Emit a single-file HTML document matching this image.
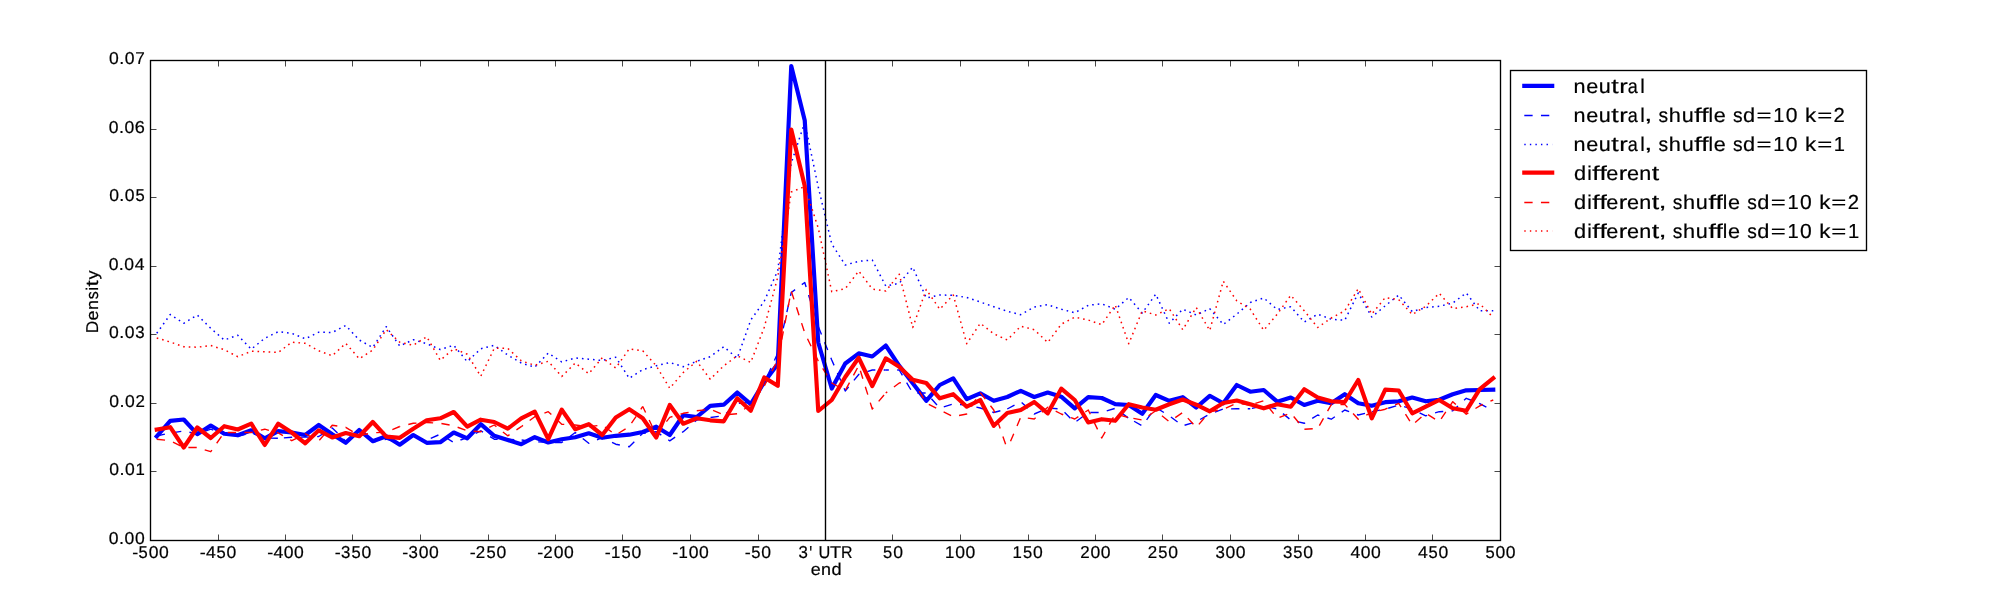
<!DOCTYPE html>
<html><head><meta charset="utf-8"><title>chart</title>
<style>html,body{margin:0;padding:0;background:#fff;}svg{display:block;will-change:transform}text{font-family:"Liberation Sans",sans-serif;fill:#000;stroke:#000;stroke-width:0.2px;text-rendering:geometricPrecision}</style>
</head><body>
<svg width="2000" height="600" viewBox="0 0 2000 600">
<rect x="0" y="0" width="2000" height="600" fill="#fff"/>
<g clip-path="url(#c)">
<defs><clipPath id="c"><rect x="150" y="60" width="1350" height="480"/></clipPath></defs>
<polyline points="156.75,436.30 170.25,420.80 183.75,419.50 197.25,434.20 210.75,425.50 224.25,433.70 237.75,435.30 251.25,430.30 264.75,438.30 278.25,431.20 291.75,432.50 305.25,435.00 318.75,425.00 332.25,434.20 345.75,442.80 359.25,430.00 372.75,441.20 386.25,436.30 399.75,444.70 413.25,435.00 426.75,442.80 440.25,442.20 453.75,432.50 467.25,438.30 480.75,424.20 494.25,435.80 507.75,440.00 521.25,444.20 534.75,437.20 548.25,442.50 561.75,439.20 575.25,437.20 588.75,433.30 602.25,437.80 615.75,435.80 629.25,434.70 642.75,432.00 656.25,426.70 669.75,435.00 683.25,415.30 696.75,417.00 710.25,405.80 723.75,404.70 737.25,392.50 750.75,404.20 764.25,382.00 777.75,364.00 791.25,66.00 804.75,120.50 818.25,342.50 831.75,388.50 845.25,363.50 858.75,353.30 872.25,356.50 885.75,345.50 899.25,365.80 912.75,383.30 926.25,400.80 939.75,385.00 953.25,378.30 966.75,399.20 980.25,393.30 993.75,400.80 1007.25,397.00 1020.75,390.80 1034.25,397.00 1047.75,392.50 1061.25,396.70 1074.75,408.30 1088.25,397.20 1101.75,398.00 1115.25,404.20 1128.75,405.00 1142.25,413.70 1155.75,395.00 1169.25,400.80 1182.75,397.20 1196.25,407.50 1209.75,395.80 1223.25,403.30 1236.75,385.00 1250.25,391.70 1263.75,390.00 1277.25,401.70 1290.75,397.50 1304.25,405.00 1317.75,400.80 1331.25,403.30 1344.75,394.20 1358.25,403.30 1371.75,405.80 1385.25,402.20 1398.75,401.30 1412.25,397.50 1425.75,401.30 1439.25,399.70 1452.75,394.20 1466.25,390.30 1479.75,390.00 1493.25,389.70" fill="none" stroke="#0000ff" stroke-width="4.17" stroke-linejoin="round" stroke-linecap="square"/>
<polyline points="156.75,436.00 170.25,433.00 183.75,431.00 197.25,434.00 210.75,429.20 224.25,434.00 237.75,436.00 251.25,433.00 264.75,438.00 278.25,438.30" fill="none" stroke="#0000ff" stroke-width="1.39" stroke-linejoin="round" stroke-dasharray="8.33 8.33" stroke-dashoffset="0.00"/>
<polyline points="278.25,438.30 291.75,437.20 305.25,437.10 318.75,436.50 332.25,427.90 345.75,441.25 359.25,430.80 372.75,442.00 386.25,439.20 399.75,443.30" fill="none" stroke="#0000ff" stroke-width="1.39" stroke-linejoin="round" stroke-dasharray="8.33 8.33" stroke-dashoffset="11.02"/>
<polyline points="399.75,443.30 413.25,436.70 426.75,440.00 440.25,434.20 453.75,442.50 467.25,437.50 480.75,430.80 494.25,439.20 507.75,439.20 521.25,440.00" fill="none" stroke="#0000ff" stroke-width="1.39" stroke-linejoin="round" stroke-dasharray="8.33 8.33" stroke-dashoffset="0.04"/>
<polyline points="521.25,440.00 534.75,441.70 548.25,442.50 561.75,442.50 575.25,432.50 588.75,443.30 602.25,437.50 615.75,444.20 629.25,446.70 642.75,433.30" fill="none" stroke="#0000ff" stroke-width="1.39" stroke-linejoin="round" stroke-dasharray="8.33 8.33" stroke-dashoffset="16.27"/>
<polyline points="642.75,433.30 656.25,431.70 669.75,440.80 683.25,431.70 696.75,420.00 710.25,417.50 723.75,415.80 737.25,403.30 750.75,402.50 764.25,383.00" fill="none" stroke="#0000ff" stroke-width="1.39" stroke-linejoin="round" stroke-dasharray="8.33 8.33" stroke-dashoffset="5.27"/>
<polyline points="764.25,383.00 777.75,353.00 791.25,292.50 804.75,282.50 818.25,326.50 831.75,360.00 845.25,391.00 858.75,374.50 872.25,370.00 885.75,370.00" fill="none" stroke="#0000ff" stroke-width="1.39" stroke-linejoin="round" stroke-dasharray="8.33 8.33" stroke-dashoffset="8.58"/>
<polyline points="885.75,370.00 899.25,370.00 912.75,393.00 926.25,393.00 939.75,408.00 953.25,404.00 966.75,405.00 980.25,408.00 993.75,412.50 1007.25,409.00" fill="none" stroke="#0000ff" stroke-width="1.39" stroke-linejoin="round" stroke-dasharray="8.33 8.33" stroke-dashoffset="5.25"/>
<polyline points="1007.25,409.00 1020.75,401.70 1034.25,414.00 1047.75,408.00 1061.25,409.00 1074.75,422.50 1088.25,412.50 1101.75,412.50 1115.25,408.30 1128.75,418.30" fill="none" stroke="#0000ff" stroke-width="1.39" stroke-linejoin="round" stroke-dasharray="8.33 8.33" stroke-dashoffset="0.09"/>
<polyline points="1128.75,418.30 1142.25,425.80 1155.75,407.50 1169.25,415.80 1182.75,425.80 1196.25,421.70 1209.75,414.00 1223.25,409.00 1236.75,408.70 1250.25,408.70" fill="none" stroke="#0000ff" stroke-width="1.39" stroke-linejoin="round" stroke-dasharray="8.33 8.33" stroke-dashoffset="10.56"/>
<polyline points="1250.25,408.70 1263.75,405.80 1277.25,409.00 1290.75,420.00 1304.25,423.30 1317.75,415.00 1331.25,419.20 1344.75,410.00 1358.25,415.00 1371.75,411.70" fill="none" stroke="#0000ff" stroke-width="1.39" stroke-linejoin="round" stroke-dasharray="8.33 8.33" stroke-dashoffset="14.96"/>
<polyline points="1371.75,411.70 1385.25,409.20 1398.75,405.00 1412.25,409.20 1425.75,415.80 1439.25,411.70 1452.75,410.80 1466.25,398.30 1479.75,403.60 1493.25,411.00" fill="none" stroke="#0000ff" stroke-width="1.39" stroke-linejoin="round" stroke-dasharray="8.33 8.33" stroke-dashoffset="16.49"/>
<polyline points="156.75,333.30 170.25,314.50 183.75,323.30 197.25,315.00 210.75,328.30 224.25,340.00 237.75,335.30 251.25,349.20 264.75,338.30 278.25,331.70 291.75,333.30 305.25,338.80 318.75,332.20 332.25,332.50 345.75,325.50 359.25,340.00 372.75,347.50 386.25,326.70 399.75,346.00 413.25,339.70 426.75,343.70 440.25,349.50 453.75,345.30 467.25,361.70 480.75,348.80 494.25,345.30 507.75,355.00 521.25,363.00 534.75,367.20 548.25,353.00 561.75,362.00 575.25,358.00 588.75,359.20 602.25,360.50 615.75,357.20 629.25,378.30 642.75,369.60 656.25,365.80 669.75,362.50 683.25,366.70 696.75,361.30 710.25,356.70 723.75,346.70 737.25,358.30 750.75,320.00 764.25,301.20 777.75,270.60 791.25,163.00 804.75,122.50 818.25,187.00 831.75,244.00 845.25,265.00 858.75,261.30 872.25,260.00 885.75,286.00 899.25,283.30 912.75,267.20 926.25,298.00 939.75,295.00 953.25,295.30 966.75,297.50 980.25,302.00 993.75,306.70 1007.25,311.30 1020.75,314.70 1034.25,307.00 1047.75,304.70 1061.25,309.20 1074.75,312.80 1088.25,305.30 1101.75,303.80 1115.25,309.20 1128.75,297.50 1142.25,313.00 1155.75,294.20 1169.25,323.30 1182.75,309.20 1196.25,315.00 1209.75,308.70 1223.25,324.50 1236.75,314.20 1250.25,302.50 1263.75,298.00 1277.25,309.50 1290.75,306.70 1304.25,322.00 1317.75,314.20 1331.25,319.20 1344.75,320.30 1358.25,293.00 1371.75,317.00 1385.25,305.80 1398.75,295.00 1412.25,311.70 1425.75,307.50 1439.25,306.30 1452.75,303.00 1466.25,293.00 1479.75,310.80 1493.25,310.80" fill="none" stroke="#0000ff" stroke-width="1.50" stroke-linejoin="round" stroke-linecap="butt" stroke-dasharray="1.6 3.96"/>
<polyline points="156.75,429.50 170.25,427.20 183.75,447.50 197.25,427.50 210.75,438.00 224.25,426.20 237.75,429.50 251.25,423.70 264.75,445.00 278.25,423.70 291.75,432.50 305.25,443.30 318.75,430.30 332.25,437.50 345.75,433.00 359.25,436.20 372.75,422.00 386.25,436.70 399.75,437.80 413.25,428.70 426.75,420.30 440.25,418.30 453.75,412.00 467.25,426.70 480.75,419.70 494.25,422.00 507.75,428.70 521.25,418.30 534.75,411.70 548.25,439.20 561.75,409.70 575.25,429.20 588.75,424.20 602.25,435.00 615.75,417.50 629.25,409.20 642.75,418.30 656.25,437.50 669.75,405.00 683.25,423.70 696.75,418.30 710.25,420.30 723.75,421.30 737.25,398.30 750.75,410.80 764.25,377.50 777.75,385.80 791.25,129.50 804.75,186.00 818.25,411.00 831.75,400.00 845.25,377.00 858.75,357.80 872.25,386.00 885.75,358.30 899.25,366.70 912.75,379.70 926.25,383.00 939.75,398.30 953.25,394.20 966.75,406.70 980.25,400.00 993.75,425.80 1007.25,413.00 1020.75,410.00 1034.25,402.00 1047.75,413.30 1061.25,388.70 1074.75,400.00 1088.25,422.50 1101.75,419.20 1115.25,420.80 1128.75,404.20 1142.25,407.50 1155.75,409.70 1169.25,404.20 1182.75,399.50 1196.25,404.70 1209.75,411.30 1223.25,403.00 1236.75,400.50 1250.25,404.20 1263.75,408.30 1277.25,404.20 1290.75,406.70 1304.25,389.20 1317.75,397.50 1331.25,401.30 1344.75,402.00 1358.25,380.00 1371.75,418.30 1385.25,389.70 1398.75,390.50 1412.25,413.30 1425.75,406.70 1439.25,400.00 1452.75,408.30 1466.25,410.80 1479.75,389.20 1493.25,378.30" fill="none" stroke="#ff0000" stroke-width="4.17" stroke-linejoin="round" stroke-linecap="square"/>
<polyline points="156.75,439.20 170.25,440.80 183.75,447.50 197.25,447.50 210.75,451.70 224.25,432.50 237.75,432.50 251.25,432.50 264.75,429.20 278.25,432.90" fill="none" stroke="#ff0000" stroke-width="1.39" stroke-linejoin="round" stroke-dasharray="8.33 8.33" stroke-dashoffset="0.00"/>
<polyline points="278.25,432.90 291.75,440.70 305.25,433.75 318.75,441.00 332.25,425.25 345.75,427.30 359.25,435.60 372.75,432.70 386.25,432.30 399.75,426.50" fill="none" stroke="#ff0000" stroke-width="1.39" stroke-linejoin="round" stroke-dasharray="8.33 8.33" stroke-dashoffset="2.99"/>
<polyline points="399.75,426.50 413.25,423.30 426.75,422.50 440.25,423.30 453.75,425.80 467.25,430.80 480.75,431.70 494.25,425.00 507.75,435.80 521.25,426.70" fill="none" stroke="#ff0000" stroke-width="1.39" stroke-linejoin="round" stroke-dasharray="8.33 8.33" stroke-dashoffset="7.86"/>
<polyline points="521.25,426.70 534.75,416.70 548.25,411.70 561.75,424.20 575.25,425.00 588.75,426.70 602.25,425.00 615.75,435.00 629.25,426.50 642.75,406.50" fill="none" stroke="#ff0000" stroke-width="1.39" stroke-linejoin="round" stroke-dasharray="8.33 8.33" stroke-dashoffset="6.20"/>
<polyline points="642.75,406.50 656.25,435.00 669.75,417.30 683.25,413.30 696.75,410.80 710.25,409.20 723.75,415.00 737.25,413.70 750.75,405.00 764.25,386.00" fill="none" stroke="#ff0000" stroke-width="1.39" stroke-linejoin="round" stroke-dasharray="8.33 8.33" stroke-dashoffset="1.67"/>
<polyline points="764.25,386.00 777.75,360.00 791.25,291.00 804.75,333.00 818.25,361.00 831.75,383.00 845.25,390.50 858.75,365.50 872.25,409.00 885.75,393.00" fill="none" stroke="#ff0000" stroke-width="1.39" stroke-linejoin="round" stroke-dasharray="8.33 8.33" stroke-dashoffset="16.56"/>
<polyline points="885.75,393.00 899.25,383.00 912.75,380.00 926.25,403.00 939.75,410.00 953.25,416.70 966.75,414.00 980.25,392.50 993.75,410.00 1007.25,449.00" fill="none" stroke="#ff0000" stroke-width="1.39" stroke-linejoin="round" stroke-dasharray="8.33 8.33" stroke-dashoffset="6.47"/>
<polyline points="1007.25,449.00 1020.75,417.20 1034.25,419.00 1047.75,407.20 1061.25,414.00 1074.75,419.00 1088.25,410.00 1101.75,438.00 1115.25,414.00 1128.75,417.50" fill="none" stroke="#ff0000" stroke-width="1.39" stroke-linejoin="round" stroke-dasharray="8.33 8.33" stroke-dashoffset="8.32"/>
<polyline points="1128.75,417.50 1142.25,420.00 1155.75,410.80 1169.25,421.70 1182.75,412.50 1196.25,427.50 1209.75,411.70 1223.25,409.20 1236.75,403.30 1250.25,405.00" fill="none" stroke="#ff0000" stroke-width="1.39" stroke-linejoin="round" stroke-dasharray="8.33 8.33" stroke-dashoffset="11.96"/>
<polyline points="1250.25,405.00 1263.75,400.80 1277.25,418.30 1290.75,413.00 1304.25,429.20 1317.75,428.50 1331.25,404.60 1344.75,404.40 1358.25,419.20 1371.75,412.50" fill="none" stroke="#ff0000" stroke-width="1.39" stroke-linejoin="round" stroke-dasharray="8.33 8.33" stroke-dashoffset="11.30"/>
<polyline points="1371.75,412.50 1385.25,409.20 1398.75,403.30 1412.25,425.00 1425.75,413.30 1439.25,421.70 1452.75,401.70 1466.25,414.20 1479.75,405.80 1493.25,400.00" fill="none" stroke="#ff0000" stroke-width="1.39" stroke-linejoin="round" stroke-dasharray="8.33 8.33" stroke-dashoffset="8.61"/>
<polyline points="156.75,338.00 170.25,342.00 183.75,346.70 197.25,347.20 210.75,345.50 224.25,349.70 237.75,356.70 251.25,351.30 264.75,351.70 278.25,352.50 291.75,342.20 305.25,343.30 318.75,350.80 332.25,355.80 345.75,343.30 359.25,358.80 372.75,350.00 386.25,329.70 399.75,342.20 413.25,345.30 426.75,336.70 440.25,360.30 453.75,348.70 467.25,354.20 480.75,376.30 494.25,348.30 507.75,348.30 521.25,360.80 534.75,365.30 548.25,361.30 561.75,376.50 575.25,363.00 588.75,373.70 602.25,357.80 615.75,368.00 629.25,348.80 642.75,350.80 656.25,365.80 669.75,388.30 683.25,372.50 696.75,361.30 710.25,379.20 723.75,365.80 737.25,355.80 750.75,362.50 764.25,327.30 777.75,277.20 791.25,192.00 804.75,186.50 818.25,228.00 831.75,291.70 845.25,288.70 858.75,271.00 872.25,289.00 885.75,291.00 899.25,274.20 912.75,327.50 926.25,289.50 939.75,309.20 953.25,295.00 966.75,343.70 980.25,323.30 993.75,333.80 1007.25,340.00 1020.75,326.20 1034.25,329.70 1047.75,342.50 1061.25,324.20 1074.75,317.20 1088.25,320.00 1101.75,324.70 1115.25,305.00 1128.75,343.70 1142.25,310.80 1155.75,315.00 1169.25,308.70 1182.75,329.70 1196.25,307.50 1209.75,330.50 1223.25,281.20 1236.75,300.80 1250.25,309.20 1263.75,330.30 1277.25,314.20 1290.75,295.30 1304.25,310.80 1317.75,327.50 1331.25,318.00 1344.75,310.80 1358.25,288.70 1371.75,314.20 1385.25,297.50 1398.75,299.70 1412.25,314.50 1425.75,306.30 1439.25,293.30 1452.75,308.70 1466.25,306.70 1479.75,303.70 1493.25,317.50" fill="none" stroke="#ff0000" stroke-width="1.50" stroke-linejoin="round" stroke-linecap="butt" stroke-dasharray="1.6 3.96"/>
<line x1="825.5" y1="60" x2="825.5" y2="540" stroke="#000" stroke-width="1.39"/>
</g>
<g stroke="#000" stroke-width="0.72">
<line x1="150.5" y1="540.5" x2="150.5" y2="534.5"/>
<line x1="150.5" y1="60.5" x2="150.5" y2="66.5"/>
<line x1="218.5" y1="540.5" x2="218.5" y2="534.5"/>
<line x1="218.5" y1="60.5" x2="218.5" y2="66.5"/>
<line x1="285.5" y1="540.5" x2="285.5" y2="534.5"/>
<line x1="285.5" y1="60.5" x2="285.5" y2="66.5"/>
<line x1="352.5" y1="540.5" x2="352.5" y2="534.5"/>
<line x1="352.5" y1="60.5" x2="352.5" y2="66.5"/>
<line x1="420.5" y1="540.5" x2="420.5" y2="534.5"/>
<line x1="420.5" y1="60.5" x2="420.5" y2="66.5"/>
<line x1="488.5" y1="540.5" x2="488.5" y2="534.5"/>
<line x1="488.5" y1="60.5" x2="488.5" y2="66.5"/>
<line x1="555.5" y1="540.5" x2="555.5" y2="534.5"/>
<line x1="555.5" y1="60.5" x2="555.5" y2="66.5"/>
<line x1="622.5" y1="540.5" x2="622.5" y2="534.5"/>
<line x1="622.5" y1="60.5" x2="622.5" y2="66.5"/>
<line x1="690.5" y1="540.5" x2="690.5" y2="534.5"/>
<line x1="690.5" y1="60.5" x2="690.5" y2="66.5"/>
<line x1="758.5" y1="540.5" x2="758.5" y2="534.5"/>
<line x1="758.5" y1="60.5" x2="758.5" y2="66.5"/>
<line x1="825.5" y1="540.5" x2="825.5" y2="534.5"/>
<line x1="825.5" y1="60.5" x2="825.5" y2="66.5"/>
<line x1="892.5" y1="540.5" x2="892.5" y2="534.5"/>
<line x1="892.5" y1="60.5" x2="892.5" y2="66.5"/>
<line x1="960.5" y1="540.5" x2="960.5" y2="534.5"/>
<line x1="960.5" y1="60.5" x2="960.5" y2="66.5"/>
<line x1="1028.5" y1="540.5" x2="1028.5" y2="534.5"/>
<line x1="1028.5" y1="60.5" x2="1028.5" y2="66.5"/>
<line x1="1095.5" y1="540.5" x2="1095.5" y2="534.5"/>
<line x1="1095.5" y1="60.5" x2="1095.5" y2="66.5"/>
<line x1="1162.5" y1="540.5" x2="1162.5" y2="534.5"/>
<line x1="1162.5" y1="60.5" x2="1162.5" y2="66.5"/>
<line x1="1230.5" y1="540.5" x2="1230.5" y2="534.5"/>
<line x1="1230.5" y1="60.5" x2="1230.5" y2="66.5"/>
<line x1="1298.5" y1="540.5" x2="1298.5" y2="534.5"/>
<line x1="1298.5" y1="60.5" x2="1298.5" y2="66.5"/>
<line x1="1365.5" y1="540.5" x2="1365.5" y2="534.5"/>
<line x1="1365.5" y1="60.5" x2="1365.5" y2="66.5"/>
<line x1="1432.5" y1="540.5" x2="1432.5" y2="534.5"/>
<line x1="1432.5" y1="60.5" x2="1432.5" y2="66.5"/>
<line x1="1500.5" y1="540.5" x2="1500.5" y2="534.5"/>
<line x1="1500.5" y1="60.5" x2="1500.5" y2="66.5"/>
<line x1="150.5" y1="540.5" x2="156.5" y2="540.5"/>
<line x1="1500.5" y1="540.5" x2="1494.5" y2="540.5"/>
<line x1="150.5" y1="471.5" x2="156.5" y2="471.5"/>
<line x1="1500.5" y1="471.5" x2="1494.5" y2="471.5"/>
<line x1="150.5" y1="403.5" x2="156.5" y2="403.5"/>
<line x1="1500.5" y1="403.5" x2="1494.5" y2="403.5"/>
<line x1="150.5" y1="334.5" x2="156.5" y2="334.5"/>
<line x1="1500.5" y1="334.5" x2="1494.5" y2="334.5"/>
<line x1="150.5" y1="266.5" x2="156.5" y2="266.5"/>
<line x1="1500.5" y1="266.5" x2="1494.5" y2="266.5"/>
<line x1="150.5" y1="197.5" x2="156.5" y2="197.5"/>
<line x1="1500.5" y1="197.5" x2="1494.5" y2="197.5"/>
<line x1="150.5" y1="129.5" x2="156.5" y2="129.5"/>
<line x1="1500.5" y1="129.5" x2="1494.5" y2="129.5"/>
<line x1="150.5" y1="60.5" x2="156.5" y2="60.5"/>
<line x1="1500.5" y1="60.5" x2="1494.5" y2="60.5"/>
</g>
<rect x="150.5" y="60.5" width="1350" height="480" fill="none" stroke="#000" stroke-width="1.35"/>
<text transform="translate(132.16,557.77) scale(1.0780,0.9942)" font-size="16.667">-</text>
<text transform="translate(138.60,557.86) scale(0.9949,1.0331)" font-size="16.667">5</text>
<text transform="translate(148.67,557.86) scale(1.0541,1.0362)" font-size="16.667">0</text>
<text transform="translate(158.96,557.86) scale(1.0541,1.0362)" font-size="16.667">0</text>
<text transform="translate(199.66,557.77) scale(1.0780,0.9942)" font-size="16.667">-</text>
<text transform="translate(205.89,557.80) scale(1.0543,1.0278)" font-size="16.667">4</text>
<text transform="translate(216.38,557.86) scale(0.9949,1.0331)" font-size="16.667">5</text>
<text transform="translate(226.46,557.86) scale(1.0541,1.0362)" font-size="16.667">0</text>
<text transform="translate(267.16,557.77) scale(1.0780,0.9942)" font-size="16.667">-</text>
<text transform="translate(273.39,557.80) scale(1.0543,1.0278)" font-size="16.667">4</text>
<text transform="translate(283.67,557.86) scale(1.0541,1.0362)" font-size="16.667">0</text>
<text transform="translate(293.96,557.86) scale(1.0541,1.0362)" font-size="16.667">0</text>
<text transform="translate(334.66,557.77) scale(1.0780,0.9942)" font-size="16.667">-</text>
<text transform="translate(341.10,557.86) scale(1.0124,1.0362)" font-size="16.667">3</text>
<text transform="translate(351.38,557.86) scale(0.9949,1.0331)" font-size="16.667">5</text>
<text transform="translate(361.46,557.86) scale(1.0541,1.0362)" font-size="16.667">0</text>
<text transform="translate(402.16,557.77) scale(1.0780,0.9942)" font-size="16.667">-</text>
<text transform="translate(408.60,557.86) scale(1.0124,1.0362)" font-size="16.667">3</text>
<text transform="translate(418.67,557.86) scale(1.0541,1.0362)" font-size="16.667">0</text>
<text transform="translate(428.96,557.86) scale(1.0541,1.0362)" font-size="16.667">0</text>
<text transform="translate(469.66,557.77) scale(1.0780,0.9942)" font-size="16.667">-</text>
<text transform="translate(475.84,557.80) scale(1.0161,1.0310)" font-size="16.667">2</text>
<text transform="translate(486.38,557.86) scale(0.9949,1.0331)" font-size="16.667">5</text>
<text transform="translate(496.46,557.86) scale(1.0541,1.0362)" font-size="16.667">0</text>
<text transform="translate(537.16,557.77) scale(1.0780,0.9942)" font-size="16.667">-</text>
<text transform="translate(543.34,557.80) scale(1.0161,1.0310)" font-size="16.667">2</text>
<text transform="translate(553.67,557.86) scale(1.0541,1.0362)" font-size="16.667">0</text>
<text transform="translate(563.96,557.86) scale(1.0541,1.0362)" font-size="16.667">0</text>
<text transform="translate(604.66,557.77) scale(1.0780,0.9942)" font-size="16.667">-</text>
<text transform="translate(611.03,557.80) scale(1.0068,1.0278)" font-size="16.667">1</text>
<text transform="translate(621.38,557.86) scale(0.9949,1.0331)" font-size="16.667">5</text>
<text transform="translate(631.46,557.86) scale(1.0541,1.0362)" font-size="16.667">0</text>
<text transform="translate(672.16,557.77) scale(1.0780,0.9942)" font-size="16.667">-</text>
<text transform="translate(678.53,557.80) scale(1.0068,1.0278)" font-size="16.667">1</text>
<text transform="translate(688.67,557.86) scale(1.0541,1.0362)" font-size="16.667">0</text>
<text transform="translate(698.96,557.86) scale(1.0541,1.0362)" font-size="16.667">0</text>
<text transform="translate(744.80,557.77) scale(1.0780,0.9942)" font-size="16.667">-</text>
<text transform="translate(751.24,557.86) scale(0.9949,1.0331)" font-size="16.667">5</text>
<text transform="translate(761.32,557.86) scale(1.0541,1.0362)" font-size="16.667">0</text>
<text transform="translate(798.41,557.86) scale(1.0124,1.0362)" font-size="16.667">3</text>
<text transform="translate(809.21,559.95) scale(0.9239,1.2152)" font-size="16.667">&#39;</text>
<text transform="translate(818.45,557.86) scale(0.9828,1.0331)" font-size="16.667">U</text>
<text transform="translate(830.01,557.80) scale(1.0907,1.0278)" font-size="16.667">T</text>
<text transform="translate(840.98,557.80) scale(0.9564,1.0278)" font-size="16.667">R</text>
<text transform="translate(810.65,574.86) scale(1.0801,1.0167)" font-size="16.667">e</text>
<text transform="translate(821.07,574.80) scale(1.0782,1.0096)" font-size="16.667">n</text>
<text transform="translate(831.47,574.86) scale(1.0869,1.0222)" font-size="16.667">d</text>
<text transform="translate(883.09,557.86) scale(0.9949,1.0331)" font-size="16.667">5</text>
<text transform="translate(893.16,557.86) scale(1.0541,1.0362)" font-size="16.667">0</text>
<text transform="translate(945.10,557.80) scale(1.0068,1.0278)" font-size="16.667">1</text>
<text transform="translate(955.25,557.86) scale(1.0541,1.0362)" font-size="16.667">0</text>
<text transform="translate(965.53,557.86) scale(1.0541,1.0362)" font-size="16.667">0</text>
<text transform="translate(1012.60,557.80) scale(1.0068,1.0278)" font-size="16.667">1</text>
<text transform="translate(1022.96,557.86) scale(0.9949,1.0331)" font-size="16.667">5</text>
<text transform="translate(1033.03,557.86) scale(1.0541,1.0362)" font-size="16.667">0</text>
<text transform="translate(1080.22,557.80) scale(1.0161,1.0310)" font-size="16.667">2</text>
<text transform="translate(1090.55,557.86) scale(1.0541,1.0362)" font-size="16.667">0</text>
<text transform="translate(1100.84,557.86) scale(1.0541,1.0362)" font-size="16.667">0</text>
<text transform="translate(1147.72,557.80) scale(1.0161,1.0310)" font-size="16.667">2</text>
<text transform="translate(1158.26,557.86) scale(0.9949,1.0331)" font-size="16.667">5</text>
<text transform="translate(1168.34,557.86) scale(1.0541,1.0362)" font-size="16.667">0</text>
<text transform="translate(1215.46,557.86) scale(1.0124,1.0362)" font-size="16.667">3</text>
<text transform="translate(1225.53,557.86) scale(1.0541,1.0362)" font-size="16.667">0</text>
<text transform="translate(1235.81,557.86) scale(1.0541,1.0362)" font-size="16.667">0</text>
<text transform="translate(1282.96,557.86) scale(1.0124,1.0362)" font-size="16.667">3</text>
<text transform="translate(1293.24,557.86) scale(0.9949,1.0331)" font-size="16.667">5</text>
<text transform="translate(1303.31,557.86) scale(1.0541,1.0362)" font-size="16.667">0</text>
<text transform="translate(1350.47,557.80) scale(1.0543,1.0278)" font-size="16.667">4</text>
<text transform="translate(1360.76,557.86) scale(1.0541,1.0362)" font-size="16.667">0</text>
<text transform="translate(1371.04,557.86) scale(1.0541,1.0362)" font-size="16.667">0</text>
<text transform="translate(1417.97,557.80) scale(1.0543,1.0278)" font-size="16.667">4</text>
<text transform="translate(1428.47,557.86) scale(0.9949,1.0331)" font-size="16.667">5</text>
<text transform="translate(1438.54,557.86) scale(1.0541,1.0362)" font-size="16.667">0</text>
<text transform="translate(1485.44,557.86) scale(0.9949,1.0331)" font-size="16.667">5</text>
<text transform="translate(1495.52,557.86) scale(1.0541,1.0362)" font-size="16.667">0</text>
<text transform="translate(1505.81,557.86) scale(1.0541,1.0362)" font-size="16.667">0</text>
<text transform="translate(108.81,544.46) scale(1.0541,1.0362)" font-size="16.667">0</text>
<text transform="translate(118.97,544.40) scale(1.0821,1.1250)" font-size="16.667">.</text>
<text transform="translate(124.47,544.46) scale(1.0541,1.0362)" font-size="16.667">0</text>
<text transform="translate(134.92,544.46) scale(1.0541,1.0362)" font-size="16.667">0</text>
<text transform="translate(109.24,475.46) scale(1.0541,1.0362)" font-size="16.667">0</text>
<text transform="translate(119.41,475.40) scale(1.0821,1.1250)" font-size="16.667">.</text>
<text transform="translate(124.90,475.46) scale(1.0541,1.0362)" font-size="16.667">0</text>
<text transform="translate(135.49,475.40) scale(1.0068,1.0278)" font-size="16.667">1</text>
<text transform="translate(109.37,407.46) scale(1.0541,1.0362)" font-size="16.667">0</text>
<text transform="translate(119.54,407.40) scale(1.0821,1.1250)" font-size="16.667">.</text>
<text transform="translate(125.03,407.46) scale(1.0541,1.0362)" font-size="16.667">0</text>
<text transform="translate(135.43,407.40) scale(1.0161,1.0310)" font-size="16.667">2</text>
<text transform="translate(109.03,338.46) scale(1.0541,1.0362)" font-size="16.667">0</text>
<text transform="translate(119.20,338.40) scale(1.0821,1.1250)" font-size="16.667">.</text>
<text transform="translate(124.70,338.46) scale(1.0541,1.0362)" font-size="16.667">0</text>
<text transform="translate(135.36,338.46) scale(1.0124,1.0362)" font-size="16.667">3</text>
<text transform="translate(108.64,270.46) scale(1.0541,1.0362)" font-size="16.667">0</text>
<text transform="translate(118.80,270.40) scale(1.0821,1.1250)" font-size="16.667">.</text>
<text transform="translate(124.30,270.46) scale(1.0541,1.0362)" font-size="16.667">0</text>
<text transform="translate(134.74,270.40) scale(1.0543,1.0278)" font-size="16.667">4</text>
<text transform="translate(109.16,201.46) scale(1.0541,1.0362)" font-size="16.667">0</text>
<text transform="translate(119.32,201.40) scale(1.0821,1.1250)" font-size="16.667">.</text>
<text transform="translate(124.82,201.46) scale(1.0541,1.0362)" font-size="16.667">0</text>
<text transform="translate(135.47,201.46) scale(0.9949,1.0331)" font-size="16.667">5</text>
<text transform="translate(108.75,133.46) scale(1.0541,1.0362)" font-size="16.667">0</text>
<text transform="translate(118.92,133.40) scale(1.0821,1.1250)" font-size="16.667">.</text>
<text transform="translate(124.41,133.46) scale(1.0541,1.0362)" font-size="16.667">0</text>
<text transform="translate(134.69,133.46) scale(1.0910,1.0362)" font-size="16.667">6</text>
<text transform="translate(109.12,64.46) scale(1.0541,1.0362)" font-size="16.667">0</text>
<text transform="translate(119.29,64.40) scale(1.0821,1.1250)" font-size="16.667">.</text>
<text transform="translate(124.79,64.46) scale(1.0541,1.0362)" font-size="16.667">0</text>
<text transform="translate(135.31,64.40) scale(1.0311,1.0278)" font-size="16.667">7</text>
<g transform="translate(98,301.2) rotate(-90)">
<text transform="translate(-32.03,0.00) scale(1.0346,1.0278)" font-size="16.667">D</text>
<text transform="translate(-19.26,0.06) scale(1.0801,1.0167)" font-size="16.667">e</text>
<text transform="translate(-8.84,0.00) scale(1.0782,1.0096)" font-size="16.667">n</text>
<text transform="translate(1.86,0.06) scale(0.9586,1.0194)" font-size="16.667">s</text>
<text transform="translate(10.51,0.00) scale(1.0222,1.0171)" font-size="16.667">i</text>
<text transform="translate(14.82,-0.14) scale(1.3365,1.0409)" font-size="16.667">t</text>
<text transform="translate(21.70,-0.08) scale(1.0739,0.9951)" font-size="16.667">y</text>
</g>
<rect x="1510.5" y="70.5" width="356" height="180" fill="#fff" stroke="#000" stroke-width="1.35"/>
<line x1="1524.3" y1="85.8" x2="1552.2" y2="85.8" stroke="#0000ff" stroke-width="4.17" stroke-linecap="square"/>
<text transform="translate(1573.57,92.70) scale(1.0782,0.9940)" font-size="20.000">n</text>
<text transform="translate(1586.14,92.77) scale(1.0801,1.0010)" font-size="20.000">e</text>
<text transform="translate(1598.65,92.77) scale(1.0782,1.0191)" font-size="20.000">u</text>
<text transform="translate(1611.26,92.54) scale(1.3365,1.0248)" font-size="20.000">t</text>
<text transform="translate(1619.14,92.70) scale(1.2812,0.9940)" font-size="20.000">r</text>
<text transform="translate(1627.74,92.77) scale(0.8992,1.0010)" font-size="20.000">a</text>
<text transform="translate(1640.16,92.70) scale(1.0222,1.0013)" font-size="20.000">l</text>
<line x1="1524.3" y1="115.5" x2="1552.2" y2="115.5" stroke="#0000ff" stroke-width="1.39" stroke-dasharray="8.33 8.33"/>
<text transform="translate(1573.57,121.70) scale(1.0782,0.9940)" font-size="20.000">n</text>
<text transform="translate(1586.14,121.77) scale(1.0801,1.0010)" font-size="20.000">e</text>
<text transform="translate(1598.65,121.77) scale(1.0782,1.0191)" font-size="20.000">u</text>
<text transform="translate(1611.26,121.54) scale(1.3365,1.0248)" font-size="20.000">t</text>
<text transform="translate(1619.14,121.70) scale(1.2812,0.9940)" font-size="20.000">r</text>
<text transform="translate(1627.74,121.77) scale(0.8992,1.0010)" font-size="20.000">a</text>
<text transform="translate(1640.16,121.70) scale(1.0222,1.0013)" font-size="20.000">l</text>
<text transform="translate(1644.18,121.42) scale(1.4577,0.9768)" font-size="20.000">,</text>
<text transform="translate(1658.61,121.77) scale(0.9586,1.0036)" font-size="20.000">s</text>
<text transform="translate(1668.87,121.70) scale(1.0856,1.0013)" font-size="20.000">h</text>
<text transform="translate(1681.63,121.77) scale(1.0782,1.0191)" font-size="20.000">u</text>
<text transform="translate(1694.19,121.70) scale(1.3131,1.0027)" font-size="20.000">f</text>
<text transform="translate(1701.29,121.70) scale(1.3131,1.0027)" font-size="20.000">f</text>
<text transform="translate(1708.49,121.70) scale(1.0222,1.0013)" font-size="20.000">l</text>
<text transform="translate(1713.77,121.77) scale(1.0801,1.0010)" font-size="20.000">e</text>
<text transform="translate(1732.94,121.77) scale(0.9586,1.0036)" font-size="20.000">s</text>
<text transform="translate(1743.08,121.77) scale(1.0869,1.0064)" font-size="20.000">d</text>
<text transform="translate(1756.54,121.23) scale(1.2884,0.8363)" font-size="20.000">=</text>
<text transform="translate(1773.22,121.70) scale(1.0068,1.0119)" font-size="20.000">1</text>
<text transform="translate(1785.87,121.77) scale(1.0541,1.0202)" font-size="20.000">0</text>
<text transform="translate(1804.91,121.70) scale(1.1181,1.0013)" font-size="20.000">k</text>
<text transform="translate(1817.14,121.23) scale(1.2884,0.8363)" font-size="20.000">=</text>
<text transform="translate(1833.60,121.70) scale(1.0161,1.0151)" font-size="20.000">2</text>
<line x1="1524.3" y1="144.5" x2="1552.2" y2="144.5" stroke="#0000ff" stroke-width="1.39" stroke-dasharray="1.39 4.17"/>
<text transform="translate(1573.57,150.70) scale(1.0782,0.9940)" font-size="20.000">n</text>
<text transform="translate(1586.14,150.77) scale(1.0801,1.0010)" font-size="20.000">e</text>
<text transform="translate(1598.65,150.77) scale(1.0782,1.0191)" font-size="20.000">u</text>
<text transform="translate(1611.26,150.54) scale(1.3365,1.0248)" font-size="20.000">t</text>
<text transform="translate(1619.14,150.70) scale(1.2812,0.9940)" font-size="20.000">r</text>
<text transform="translate(1627.74,150.77) scale(0.8992,1.0010)" font-size="20.000">a</text>
<text transform="translate(1640.16,150.70) scale(1.0222,1.0013)" font-size="20.000">l</text>
<text transform="translate(1644.18,150.42) scale(1.4577,0.9768)" font-size="20.000">,</text>
<text transform="translate(1658.61,150.77) scale(0.9586,1.0036)" font-size="20.000">s</text>
<text transform="translate(1668.87,150.70) scale(1.0856,1.0013)" font-size="20.000">h</text>
<text transform="translate(1681.63,150.77) scale(1.0782,1.0191)" font-size="20.000">u</text>
<text transform="translate(1694.19,150.70) scale(1.3131,1.0027)" font-size="20.000">f</text>
<text transform="translate(1701.29,150.70) scale(1.3131,1.0027)" font-size="20.000">f</text>
<text transform="translate(1708.49,150.70) scale(1.0222,1.0013)" font-size="20.000">l</text>
<text transform="translate(1713.77,150.77) scale(1.0801,1.0010)" font-size="20.000">e</text>
<text transform="translate(1732.94,150.77) scale(0.9586,1.0036)" font-size="20.000">s</text>
<text transform="translate(1743.08,150.77) scale(1.0869,1.0064)" font-size="20.000">d</text>
<text transform="translate(1756.54,150.23) scale(1.2884,0.8363)" font-size="20.000">=</text>
<text transform="translate(1773.22,150.70) scale(1.0068,1.0119)" font-size="20.000">1</text>
<text transform="translate(1785.87,150.77) scale(1.0541,1.0202)" font-size="20.000">0</text>
<text transform="translate(1804.91,150.70) scale(1.1181,1.0013)" font-size="20.000">k</text>
<text transform="translate(1817.14,150.23) scale(1.2884,0.8363)" font-size="20.000">=</text>
<text transform="translate(1833.82,150.70) scale(1.0068,1.0119)" font-size="20.000">1</text>
<line x1="1524.3" y1="172.7" x2="1552.2" y2="172.7" stroke="#ff0000" stroke-width="4.17" stroke-linecap="square"/>
<text transform="translate(1574.09,179.77) scale(1.0869,1.0064)" font-size="20.000">d</text>
<text transform="translate(1587.20,179.70) scale(1.0222,1.0013)" font-size="20.000">i</text>
<text transform="translate(1592.37,179.70) scale(1.3131,1.0027)" font-size="20.000">f</text>
<text transform="translate(1599.47,179.70) scale(1.3131,1.0027)" font-size="20.000">f</text>
<text transform="translate(1606.35,179.77) scale(1.0801,1.0010)" font-size="20.000">e</text>
<text transform="translate(1618.68,179.70) scale(1.2812,0.9940)" font-size="20.000">r</text>
<text transform="translate(1627.04,179.77) scale(1.0801,1.0010)" font-size="20.000">e</text>
<text transform="translate(1639.19,179.70) scale(1.0782,0.9940)" font-size="20.000">n</text>
<text transform="translate(1651.71,179.54) scale(1.3365,1.0248)" font-size="20.000">t</text>
<line x1="1524.3" y1="202.5" x2="1552.2" y2="202.5" stroke="#ff0000" stroke-width="1.39" stroke-dasharray="8.33 8.33"/>
<text transform="translate(1574.09,208.77) scale(1.0869,1.0064)" font-size="20.000">d</text>
<text transform="translate(1587.20,208.70) scale(1.0222,1.0013)" font-size="20.000">i</text>
<text transform="translate(1592.37,208.70) scale(1.3131,1.0027)" font-size="20.000">f</text>
<text transform="translate(1599.47,208.70) scale(1.3131,1.0027)" font-size="20.000">f</text>
<text transform="translate(1606.35,208.77) scale(1.0801,1.0010)" font-size="20.000">e</text>
<text transform="translate(1618.68,208.70) scale(1.2812,0.9940)" font-size="20.000">r</text>
<text transform="translate(1627.04,208.77) scale(1.0801,1.0010)" font-size="20.000">e</text>
<text transform="translate(1639.19,208.70) scale(1.0782,0.9940)" font-size="20.000">n</text>
<text transform="translate(1651.71,208.54) scale(1.3365,1.0248)" font-size="20.000">t</text>
<text transform="translate(1658.40,208.42) scale(1.4577,0.9768)" font-size="20.000">,</text>
<text transform="translate(1672.84,208.77) scale(0.9586,1.0036)" font-size="20.000">s</text>
<text transform="translate(1683.09,208.70) scale(1.0856,1.0013)" font-size="20.000">h</text>
<text transform="translate(1695.85,208.77) scale(1.0782,1.0191)" font-size="20.000">u</text>
<text transform="translate(1708.41,208.70) scale(1.3131,1.0027)" font-size="20.000">f</text>
<text transform="translate(1715.51,208.70) scale(1.3131,1.0027)" font-size="20.000">f</text>
<text transform="translate(1722.72,208.70) scale(1.0222,1.0013)" font-size="20.000">l</text>
<text transform="translate(1727.99,208.77) scale(1.0801,1.0010)" font-size="20.000">e</text>
<text transform="translate(1747.16,208.77) scale(0.9586,1.0036)" font-size="20.000">s</text>
<text transform="translate(1757.30,208.77) scale(1.0869,1.0064)" font-size="20.000">d</text>
<text transform="translate(1770.76,208.23) scale(1.2884,0.8363)" font-size="20.000">=</text>
<text transform="translate(1787.44,208.70) scale(1.0068,1.0119)" font-size="20.000">1</text>
<text transform="translate(1800.10,208.77) scale(1.0541,1.0202)" font-size="20.000">0</text>
<text transform="translate(1819.14,208.70) scale(1.1181,1.0013)" font-size="20.000">k</text>
<text transform="translate(1831.36,208.23) scale(1.2884,0.8363)" font-size="20.000">=</text>
<text transform="translate(1847.82,208.70) scale(1.0161,1.0151)" font-size="20.000">2</text>
<line x1="1524.3" y1="231.0" x2="1552.2" y2="231.0" stroke="#ff0000" stroke-width="1.39" stroke-dasharray="1.39 4.17"/>
<text transform="translate(1574.09,237.77) scale(1.0869,1.0064)" font-size="20.000">d</text>
<text transform="translate(1587.20,237.70) scale(1.0222,1.0013)" font-size="20.000">i</text>
<text transform="translate(1592.37,237.70) scale(1.3131,1.0027)" font-size="20.000">f</text>
<text transform="translate(1599.47,237.70) scale(1.3131,1.0027)" font-size="20.000">f</text>
<text transform="translate(1606.35,237.77) scale(1.0801,1.0010)" font-size="20.000">e</text>
<text transform="translate(1618.68,237.70) scale(1.2812,0.9940)" font-size="20.000">r</text>
<text transform="translate(1627.04,237.77) scale(1.0801,1.0010)" font-size="20.000">e</text>
<text transform="translate(1639.19,237.70) scale(1.0782,0.9940)" font-size="20.000">n</text>
<text transform="translate(1651.71,237.54) scale(1.3365,1.0248)" font-size="20.000">t</text>
<text transform="translate(1658.40,237.42) scale(1.4577,0.9768)" font-size="20.000">,</text>
<text transform="translate(1672.84,237.77) scale(0.9586,1.0036)" font-size="20.000">s</text>
<text transform="translate(1683.09,237.70) scale(1.0856,1.0013)" font-size="20.000">h</text>
<text transform="translate(1695.85,237.77) scale(1.0782,1.0191)" font-size="20.000">u</text>
<text transform="translate(1708.41,237.70) scale(1.3131,1.0027)" font-size="20.000">f</text>
<text transform="translate(1715.51,237.70) scale(1.3131,1.0027)" font-size="20.000">f</text>
<text transform="translate(1722.72,237.70) scale(1.0222,1.0013)" font-size="20.000">l</text>
<text transform="translate(1727.99,237.77) scale(1.0801,1.0010)" font-size="20.000">e</text>
<text transform="translate(1747.16,237.77) scale(0.9586,1.0036)" font-size="20.000">s</text>
<text transform="translate(1757.30,237.77) scale(1.0869,1.0064)" font-size="20.000">d</text>
<text transform="translate(1770.76,237.23) scale(1.2884,0.8363)" font-size="20.000">=</text>
<text transform="translate(1787.44,237.70) scale(1.0068,1.0119)" font-size="20.000">1</text>
<text transform="translate(1800.10,237.77) scale(1.0541,1.0202)" font-size="20.000">0</text>
<text transform="translate(1819.14,237.70) scale(1.1181,1.0013)" font-size="20.000">k</text>
<text transform="translate(1831.36,237.23) scale(1.2884,0.8363)" font-size="20.000">=</text>
<text transform="translate(1848.04,237.70) scale(1.0068,1.0119)" font-size="20.000">1</text>
</svg></body></html>
